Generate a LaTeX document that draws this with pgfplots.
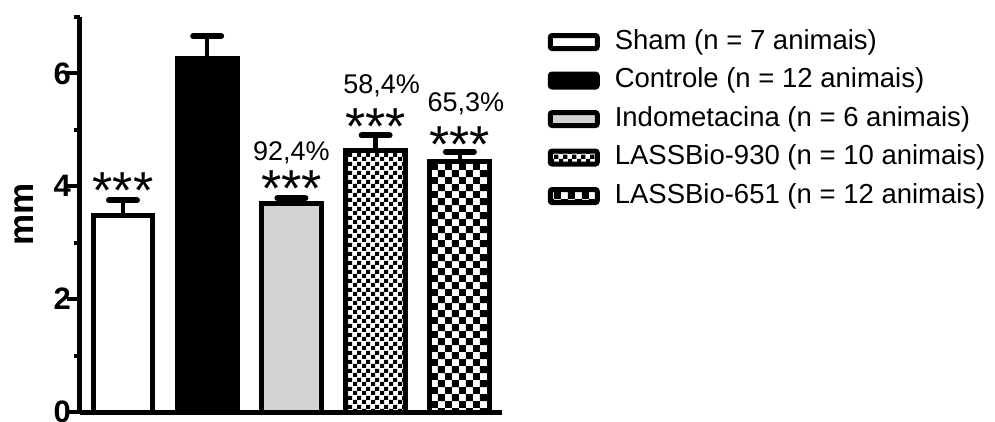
\documentclass[border=0pt]{standalone}
\usepackage{pgfplots}
\pgfplotsset{compat=1.18}
\usepackage{fontspec}
\setmainfont{Liberation Sans}
\usetikzlibrary{patterns}
\definecolor{indo}{RGB}{211,211,211}
\pgfdeclarepatternformonly{checksmall}{\pgfpointorigin}{\pgfpoint{8.6pt}{8.6pt}}{\pgfpoint{8.6pt}{8.6pt}}{%
  \pgfpathrectangle{\pgfpointorigin}{\pgfpoint{4.3pt}{4.3pt}}%
  \pgfpathrectangle{\pgfpoint{4.3pt}{4.3pt}}{\pgfpoint{4.3pt}{4.3pt}}%
  \pgfusepath{fill}}
\pgfdeclarepatternformonly{checkbig}{\pgfpointorigin}{\pgfpoint{14.4pt}{14.4pt}}{\pgfpoint{14.4pt}{14.4pt}}{%
  \pgfpathrectangle{\pgfpointorigin}{\pgfpoint{7.2pt}{7.2pt}}%
  \pgfpathrectangle{\pgfpoint{7.2pt}{7.2pt}}{\pgfpoint{7.2pt}{7.2pt}}%
  \pgfusepath{fill}}
\begin{document}
\begin{tikzpicture}
\begin{axis}[
  at={(0,0)}, anchor=south west,
  scale only axis, width=422pt, height=395pt,
  xmin=-0.51, xmax=4.5, ymin=0, ymax=7,
  axis x line=bottom, axis y line=left,
  axis line style={-, line width=5pt},
  xtick=\empty,
  ytick={0,2,4,6}, minor ytick={1,3,5,7},
  tick align=outside,
  major tick length=13pt, minor tick length=6pt,
  every tick/.style={black, line width=4pt},
  /pgf/number format/assume math mode=true,
  yticklabel style={font=\fontsize{31}{31}\selectfont\bfseries, inner sep=0pt, xshift=4pt},
  ylabel={mm},
  ylabel style={font=\fontsize{35}{35}\selectfont\bfseries, at={(axis description cs:-0.133,0.5)}, anchor=center},
  ybar, bar width=0.71,
  legend image code/.code={\draw[#1, line width=5pt, rounded corners=2pt] (0pt,-6.5pt) rectangle (47pt,6.5pt);},
  legend style={draw=none, fill=none, at={(1.108,0.97)}, anchor=north west, inner sep=0pt,
    row sep=12.5pt, column sep=15pt, font=\fontsize{27.5}{33}\selectfont,
    nodes={inner sep=0pt, text height=20pt, text depth=6pt}},
  legend cell align=left,
  errbar/.style={error bars/.cd, y dir=plus, y explicit,
    error bar style={solid, draw=black, line width=4.5pt},
    error mark options={rotate=90, mark size=14pt, line width=6pt, draw=black, line cap=round}},
]
\addplot[bar shift=0pt, draw=black, line width=5pt, fill=white, errbar] coordinates {(0,3.48) +- (0,0.27)};
\addlegendentry{Sham (n = 7 animais)}
\addplot[bar shift=0pt, draw=black, line width=5pt, fill=black, errbar] coordinates {(1,6.26) +- (0,0.40)};
\addlegendentry{Controle (n = 12 animais)}
\addplot[bar shift=0pt, draw=black, line width=5pt, fill=indo, errbar] coordinates {(2,3.69) +- (0,0.10)};
\addlegendentry{Indometacina (n = 6 animais)}
\addplot[bar shift=0pt, draw=black, line width=5pt, pattern=checksmall, pattern color=black, errbar] coordinates {(3,4.63) +- (0,0.27)};
\addlegendentry{LASSBio-930 (n = 10 animais)}
\addplot[bar shift=0pt, draw=black, line width=5pt, pattern=checkbig, pattern color=black, errbar] coordinates {(4,4.44) +- (0,0.17)};
\addlegendentry{LASSBio-651 (n = 12 animais)}
\node[anchor=base, font=\fontsize{52}{52}\selectfont, inner sep=0pt] at (axis cs:0,3.6) {***};
\node[anchor=base, font=\fontsize{52}{52}\selectfont, inner sep=0pt] at (axis cs:2,3.65) {***};
\node[anchor=base, font=\fontsize{52}{52}\selectfont, inner sep=0pt] at (axis cs:3,4.74) {***};
\node[anchor=base, font=\fontsize{52}{52}\selectfont, inner sep=0pt] at (axis cs:4,4.42) {***};
\node[anchor=base, font=\fontsize{27}{27}\selectfont, inner sep=0pt] at (axis cs:2,4.46) {92,4\%};
\node[anchor=base, font=\fontsize{27}{27}\selectfont, inner sep=0pt] at (axis cs:3.07,5.65) {58,4\%};
\node[anchor=base, font=\fontsize{27}{27}\selectfont, inner sep=0pt] at (axis cs:4.07,5.33) {65,3\%};
\end{axis}
\pgfresetboundingbox
\useasboundingbox (-80pt,-9pt) rectangle (915pt,412pt);
\end{tikzpicture}
\end{document}
